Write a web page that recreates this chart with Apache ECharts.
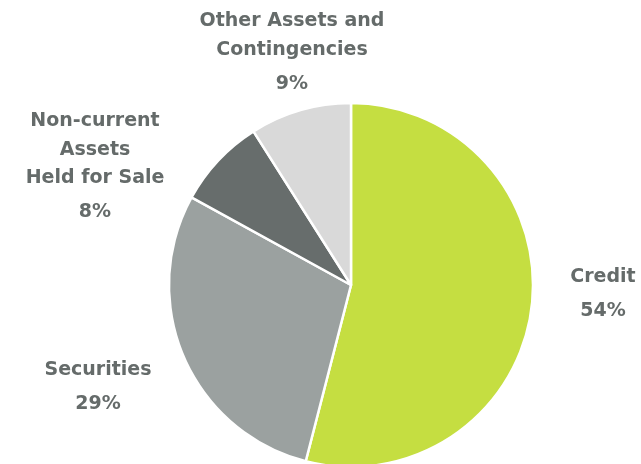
<!DOCTYPE html>
<html>
<head>
<meta charset="utf-8">
<script src="https://cdn.jsdelivr.net/npm/echarts@6/dist/echarts.min.js"></script>
<style>
  html, body { margin: 0; padding: 0; background: #ffffff; }
  #chart { width: 641px; height: 464px; }
</style>
</head>
<body>
<div id="chart"></div>
<script>
// Asset breakdown (share of total, %)
const categories = ['Credit', 'Securities', 'Non-current\nAssets\nHeld for Sale', 'Other Assets and\nContingencies'];
const shares = [54, 29, 8, 9];
const sliceColors = ['#C5DE41', '#9BA1A0', '#676D6C', '#D9D9D9'];

// Where each label block sits (centre x, top y)
const labelSpots = [
  { x: 603, y: 263 },
  { x: 98, y: 356 },
  { x: 95, y: 107 },
  { x: 292, y: 7 }
];

const textColor = '#656B6A';
const fontFamily = '"DejaVu Sans", "Liberation Sans", Arial, sans-serif';

const chart = echarts.init(document.getElementById('chart'), null, { renderer: 'canvas' });

chart.setOption({
  backgroundColor: '#ffffff',
  animation: false,
  series: [{
    type: 'pie',
    center: [351, 285],
    radius: 182,
    startAngle: 90,
    clockwise: true,
    avoidLabelOverlap: false,
    itemStyle: { borderColor: '#ffffff', borderWidth: 2.5 },
    emphasis: { disabled: true },
    labelLine: { show: false },
    label: {
      show: true,
      position: 'outside',
      formatter: p => '{name|' + p.name + '}\n{pct|' + p.value + '%}',
      rich: {
        name: {
          fontFamily: fontFamily, fontWeight: 'bold', fontSize: 19,
          color: textColor, lineHeight: 28.5, align: 'center'
        },
        pct: {
          fontFamily: fontFamily, fontWeight: 'bold', fontSize: 19,
          color: textColor, lineHeight: 40, align: 'center'
        }
      }
    },
    labelLayout: params => {
      const spot = labelSpots[params.dataIndex];
      return { x: spot.x, y: spot.y, align: 'center', verticalAlign: 'top' };
    },
    data: categories.map((name, i) => ({
      name: name,
      value: shares[i],
      itemStyle: { color: sliceColors[i] }
    }))
  }]
});
</script>
</body>
</html>
